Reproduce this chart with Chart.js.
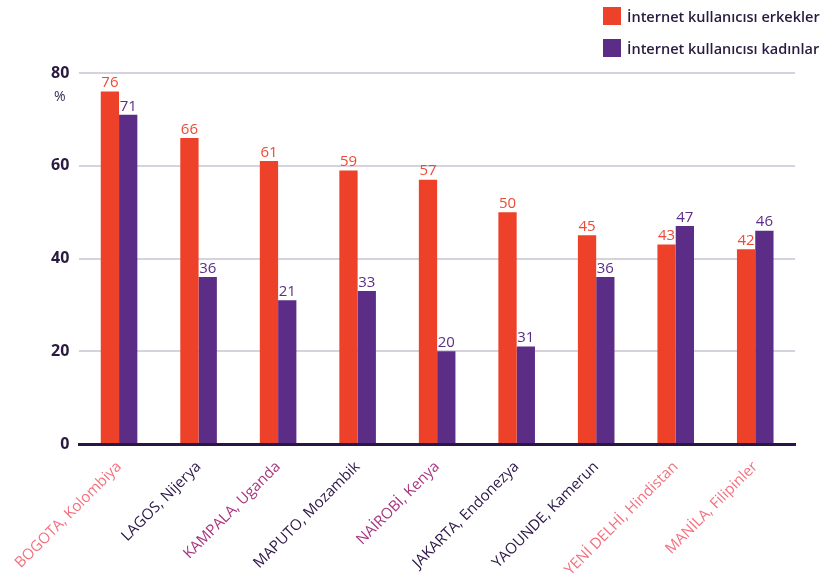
<!DOCTYPE html>
<html>
<head>
<meta charset="utf-8">
<script src="https://cdn.jsdelivr.net/npm/chart.js@4/dist/chart.umd.min.js"></script>
<style>
  body { margin: 0; background: #fff; font-family: "Open Sans", sans-serif; }
  #wrap { position: relative; width: 825px; height: 578px; }
  #legend { position: absolute; left: 603px; top: 6px; font-size: 14.5px; font-weight: 600; color: #2a1a40; }
  #legend div { display: flex; align-items: center; height: 20px; margin-bottom: 12px; }
  #legend span { display: inline-block; width: 18px; height: 18px; margin-right: 6px; }
  #pct { position: absolute; left: 54px; top: 86px; font-size: 14px; color: #3a2a55; }
</style>
</head>
<body>
<div id="wrap">
  <canvas id="myChart" width="825" height="578"></canvas>
  <div id="legend">
    <div><span style="background:#ee4129"></span>İnternet kullanıcısı erkekler</div>
    <div><span style="background:#5c2d87"></span>İnternet kullanıcısı kadınlar</div>
  </div>
  <div id="pct">%</div>
</div>
<script>
const cities = ['BOGOTA, Kolombiya', 'LAGOS, Nijerya', 'KAMPALA, Uganda', 'MAPUTO, Mozambik', 'NAİROBİ, Kenya',
  'JAKARTA, Endonezya', 'YAOUNDE, Kamerun', 'YENİ DELHİ, Hindistan', 'MANİLA, Filipinler'];
const cityColors = ['#f4717f', '#2a1545', '#a8357f', '#2a1545', '#a8357f', '#2a1545', '#2a1545', '#f4717f', '#f4717f'];
const men = [76, 66, 61, 59, 57, 50, 45, 43, 42];
const women = [71, 36, 31, 33, 20, 21, 36, 47, 46];
// the printed labels as shown on the original (two of them differ from the bar heights)
const menLabels = [76, 66, 61, 59, 57, 50, 45, 43, 42];
const womenLabels = [71, 36, 21, 33, 20, 31, 36, 47, 46];
const yTicks = [0, 20, 40, 60, 80];

const valueLabels = {
  id: 'valueLabels',
  afterDatasetsDraw(chart) {
    const ctx = chart.ctx;
    ctx.save();
    ctx.font = '15px "Open Sans"';
    ctx.textAlign = 'center';
    ctx.textBaseline = 'bottom';
    const lists = [menLabels, womenLabels];
    const cols = ['#ee4a35', '#5c2d87'];
    chart.data.datasets.forEach((ds, i) => {
      chart.getDatasetMeta(i).data.forEach((bar, j) => {
        ctx.fillStyle = cols[i];
        ctx.fillText(lists[i][j], bar.x, bar.y - 1);
      });
    });
    ctx.restore();
  }
};

const ctx = document.getElementById('myChart');
new Chart(ctx, {
  type: 'bar',
  data: {
    labels: cities,
    datasets: [
      { label: 'İnternet kullanıcısı erkekler', data: men, backgroundColor: '#ee4129' },
      { label: 'İnternet kullanıcısı kadınlar', data: women, backgroundColor: '#5c2d87' }
    ]
  },
  options: {
    responsive: false,
    animation: false,
    layout: { padding: { top: 73, left: 41, right: 30, bottom: 0 } },
    datasets: { bar: { categoryPercentage: 0.46, barPercentage: 1 } },
    plugins: { legend: { display: false }, tooltip: { enabled: false } },
    scales: {
      x: {
        grid: { display: false },
        border: { color: '#2a1545', width: 3 },
        afterFit: (axis) => { axis.height = 134; },
        ticks: {
          minRotation: 45, maxRotation: 45,
          font: { family: 'Open Sans', size: 15 },
          color: (c) => cityColors[c.index],
          padding: 6
        }
      },
      y: {
        min: 0, max: 80,
        afterBuildTicks: (axis) => { axis.ticks = yTicks.map(v => ({ value: v })); },
        grid: { color: '#d8d2de', lineWidth: 2, drawTicks: false },
        border: { display: false },
        ticks: {
          padding: 10,
          font: { family: 'Open Sans', size: 16, weight: 'bold' },
          color: '#2a1a40'
        }
      }
    }
  },
  plugins: [valueLabels]
});
</script>
</body>
</html>
